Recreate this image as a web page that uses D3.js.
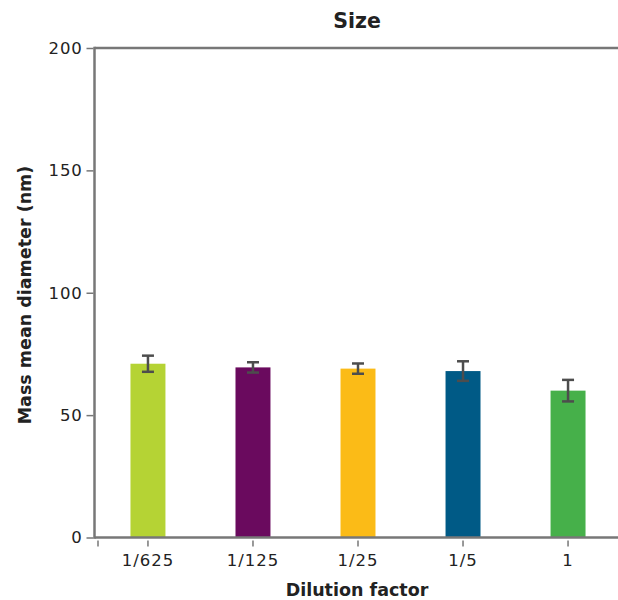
<!DOCTYPE html>
<html>
<head>
<meta charset="utf-8">
<script src="https://cdn.jsdelivr.net/npm/d3@7"></script>
<style>
  html, body { margin: 0; padding: 0; background: #fff; }
  svg { display: block; }
  text { font-family: "DejaVu Sans", sans-serif; fill: #222; }
</style>
</head>
<body>
<svg id="chart" width="618" height="600"></svg>
<script>
const categories = ["1/625", "1/125", "1/25", "1/5", "1"];
const values = [71, 69.5, 69, 68, 60];
const errors = [3.3, 2.1, 2.1, 4.0, 4.4];
const colors = ["#b5d334", "#6a0a5e", "#fbbb17", "#005a86", "#46b04a"];
const yTicks = [0, 50, 100, 150, 200];
const title = "Size";
const xLabel = "Dilution factor";
const yLabel = "Mass mean diameter (nm)";

const svg = d3.select("#chart");
const mLeft = 94.5, mTop = 48, mBottom = 537.5;
const FONT = "'DejaVu Sans', sans-serif";

const x = d3.scaleBand().domain(categories).range([95.5, 620.5])
  .paddingInner(0.667).paddingOuter(0.333);
const y = d3.scaleLinear().domain([0, 200]).range([mBottom, mTop]);

// bars
svg.append("g").selectAll("rect").data(categories).join("rect")
  .attr("x", d => x(d))
  .attr("width", x.bandwidth())
  .attr("y", (d, i) => y(values[i]))
  .attr("height", (d, i) => y(0) - y(values[i]))
  .attr("fill", (d, i) => colors[i]);

// error bars
const eg = svg.append("g").attr("stroke", "#4d4d4d").attr("stroke-width", 2.5);
categories.forEach((c, i) => {
  const cx = x(c) + x.bandwidth() / 2;
  const hi = y(values[i] + errors[i]), lo = y(values[i] - errors[i]);
  eg.append("line").attr("x1", cx).attr("x2", cx).attr("y1", hi).attr("y2", lo);
  eg.append("line").attr("x1", cx - 6).attr("x2", cx + 6).attr("y1", hi).attr("y2", hi);
  eg.append("line").attr("x1", cx - 6).attr("x2", cx + 6).attr("y1", lo).attr("y2", lo);
});

// frame
const frame = svg.append("g").attr("stroke", "#777").attr("stroke-width", 2.5).attr("fill", "none");
frame.append("line").attr("x1", mLeft).attr("x2", 618).attr("y1", mTop).attr("y2", mTop);
frame.append("line").attr("x1", mLeft).attr("x2", mLeft).attr("y1", mTop - 1.2).attr("y2", mBottom + 1.2);
frame.append("line").attr("x1", mLeft).attr("x2", 618).attr("y1", mBottom).attr("y2", mBottom);

// y axis
const yAxis = svg.append("g").attr("transform", `translate(${mLeft - 1},0)`)
  .call(d3.axisLeft(y).tickValues(yTicks).tickSize(7).tickPadding(4));
yAxis.select(".domain").remove();
yAxis.selectAll(".tick line").attr("stroke", "#777").attr("stroke-width", 1.5);
yAxis.selectAll(".tick text").attr("font-size", 16.5).attr("fill", "#222")
  .attr("font-family", FONT).attr("letter-spacing", 0.8);

// x axis
const xAxis = svg.append("g").attr("transform", `translate(0,${mBottom + 3})`)
  .call(d3.axisBottom(x).tickSize(6).tickPadding(8));
xAxis.select(".domain").remove();
xAxis.selectAll(".tick line").attr("stroke", "#777").attr("stroke-width", 1.5);
xAxis.selectAll(".tick text").attr("font-size", 16.5).attr("fill", "#222")
  .attr("font-family", FONT).attr("letter-spacing", 1);
xAxis.append("line").attr("x1", x.range()[0] + 2.5).attr("x2", x.range()[0] + 2.5)
  .attr("y1", 0).attr("y2", 6).attr("stroke", "#777").attr("stroke-width", 1.5);

// labels
svg.append("text").attr("x", 357).attr("y", 28).attr("text-anchor", "middle")
  .attr("font-size", 20.5).attr("font-weight", "bold").text(title);
svg.append("text").attr("x", 357).attr("y", 596).attr("text-anchor", "middle")
  .attr("font-size", 17.5).attr("font-weight", "bold").text(xLabel);
svg.append("text").attr("transform", "translate(31,295) rotate(-90)").attr("text-anchor", "middle")
  .attr("font-size", 17.5).attr("font-weight", "bold").text(yLabel);
</script>
</body>
</html>
